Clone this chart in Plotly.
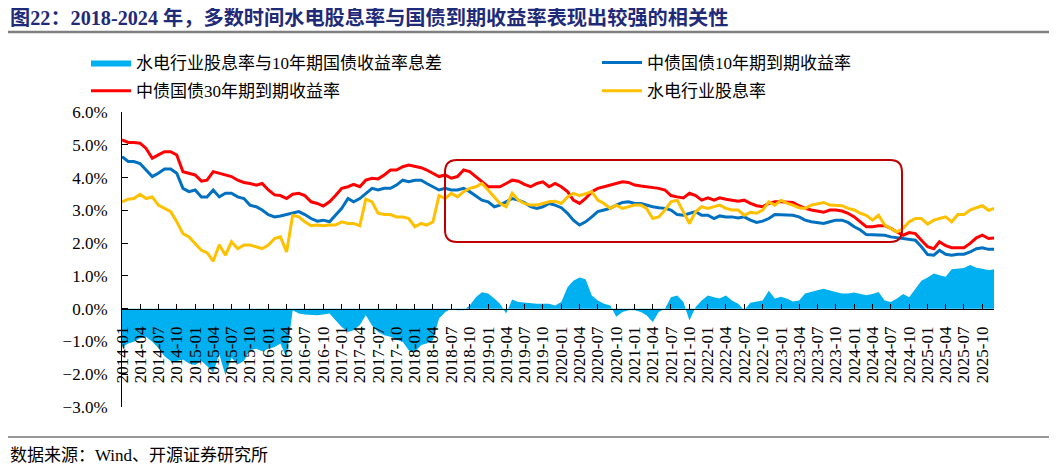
import pandas as pd
import plotly.graph_objects as go

dates = list(pd.date_range("2014-01-01", "2025-11-01", freq="MS").strftime("%Y-%m-%d")) + ["2025-11-28"]

cgb30 = [5.15, 5.07, 5.07, 5.05, 4.89, 4.59, 4.69, 4.79, 4.79, 4.69, 4.18, 4.13,
         4.08, 3.89, 3.92, 4.18, 4.13, 4.08, 4.03, 3.92, 3.85, 3.82, 3.77, 3.82,
         3.62, 3.47, 3.45, 3.36, 3.49, 3.52, 3.45, 3.26, 3.21, 3.13, 3.26, 3.45,
         3.67, 3.72, 3.79, 3.72, 3.92, 3.98, 3.96, 4.08, 4.23, 4.23, 4.33, 4.38,
         4.33, 4.30, 4.23, 4.13, 4.03, 4.08, 3.98, 4.03, 4.23, 4.18, 4.03, 3.87,
         3.72, 3.72, 3.72, 3.82, 3.92, 3.89, 3.79, 3.72, 3.82, 3.87, 3.72, 3.82,
         3.72, 3.57, 3.31, 3.21, 3.36, 3.57, 3.67, 3.72, 3.77, 3.82, 3.87, 3.85,
         3.77, 3.74, 3.72, 3.69, 3.67, 3.62, 3.45, 3.41, 3.38, 3.52, 3.45, 3.31,
         3.38, 3.31, 3.38, 3.34, 3.31, 3.28, 3.31, 3.21, 3.14, 3.11, 3.21, 3.26,
         3.26, 3.24, 3.24, 3.14, 3.06, 3.01, 2.98, 2.94, 3.01, 3.01, 2.98, 2.91,
         2.80, 2.65, 2.50, 2.50, 2.53, 2.53, 2.45, 2.34, 2.24, 2.32, 2.29, 2.09,
         1.89, 1.83, 2.04, 1.92, 1.86, 1.86, 1.86, 1.99, 2.16, 2.24, 2.14, 2.16]

cgb10 = [4.64, 4.49, 4.49, 4.43, 4.23, 4.03, 4.13, 4.26, 4.26, 4.13, 3.67, 3.57,
         3.62, 3.41, 3.41, 3.62, 3.41, 3.52, 3.52, 3.41, 3.36, 3.16, 3.11, 3.01,
         2.87, 2.80, 2.83, 2.87, 2.91, 2.96, 2.87, 2.75, 2.67, 2.70, 2.65, 2.85,
         3.06, 3.36, 3.26, 3.36, 3.52, 3.67, 3.62, 3.67, 3.67, 3.77, 3.92, 3.87,
         3.92, 3.92, 3.82, 3.72, 3.62, 3.67, 3.62, 3.62, 3.67, 3.57, 3.45, 3.31,
         3.26, 3.11, 3.16, 3.26, 3.36, 3.31, 3.24, 3.11, 3.06, 3.11, 3.21, 3.16,
         3.08, 2.91, 2.70, 2.55, 2.65, 2.80, 2.96, 3.01, 3.06, 3.16, 3.24, 3.26,
         3.21, 3.21, 3.16, 3.11, 3.08, 3.06, 3.01, 2.87, 2.85, 2.91, 2.96, 2.85,
         2.85, 2.75, 2.83, 2.80, 2.80, 2.77, 2.80, 2.70, 2.63, 2.67, 2.75, 2.87,
         2.87, 2.87, 2.85, 2.80, 2.70, 2.65, 2.63, 2.60, 2.65, 2.70, 2.70, 2.63,
         2.50, 2.40, 2.26, 2.26, 2.24, 2.24, 2.19, 2.16, 2.14, 2.12, 2.09, 1.89,
         1.65, 1.63, 1.78, 1.66, 1.63, 1.66, 1.66, 1.73, 1.83, 1.86, 1.81, 1.81]

hydro_dy = [3.26, 3.34, 3.36, 3.49, 3.36, 3.41, 3.16, 3.06, 2.96, 2.65, 2.29, 2.19,
            1.99, 1.78, 1.71, 1.45, 1.95, 1.63, 2.04, 1.83, 1.94, 1.94, 1.89, 1.83,
            1.94, 2.14, 2.19, 1.73, 2.85, 2.80, 2.65, 2.53, 2.55, 2.53, 2.55, 2.55,
            2.65, 2.60, 2.60, 2.53, 3.34, 3.26, 2.91, 2.87, 2.87, 2.80, 2.80, 2.75,
            2.50, 2.60, 2.55, 2.65, 3.45, 3.36, 3.52, 3.41, 3.57, 3.67, 3.72, 3.82,
            3.62, 3.41, 3.21, 3.11, 3.52, 3.31, 3.21, 3.16, 3.16, 3.21, 3.26, 3.28,
            3.21, 3.41, 3.52, 3.45, 3.52, 3.57, 3.31, 3.21, 3.06, 3.16, 3.06, 3.11,
            3.16, 3.16, 3.06, 2.75, 2.80, 3.01, 3.26, 3.31, 2.96, 2.60, 2.96, 3.11,
            3.06, 3.11, 3.16, 3.06, 3.01, 3.01, 2.85, 2.94, 2.91, 3.01, 3.26, 3.16,
            3.31, 3.21, 3.16, 3.08, 3.06, 3.16, 3.21, 3.24, 3.16, 3.16, 3.14, 3.06,
            3.01, 2.91, 2.85, 2.70, 2.85, 2.55, 2.45, 2.34, 2.45, 2.65, 2.75, 2.75,
            2.58, 2.70, 2.75, 2.80, 2.65, 2.87, 2.87, 3.01, 3.08, 3.14, 3.00, 3.06]

spread = [-1.17, -1.06, -1.01, -0.90, -0.86, -1.01, -1.20, -1.45, -1.60, -1.60, -1.55, -1.67,
          -1.72, -1.60, -1.75, -1.95, -1.40, -2.03, -1.50, -1.70, -1.60, -1.27, -1.22, -1.30,
          -1.22, -1.17, -1.06, -1.50, -0.05, -0.15, -0.18, -0.20, -0.20, -0.18, -0.15, -0.35,
          -0.56, -0.71, -0.66, -0.50, -0.20, -0.51, -0.71, -0.81, -0.86, -0.95, -1.01, -1.27,
          -1.32, -1.11, -1.06, -0.96, -0.30, -0.10, 0.00, -0.05, -0.05, 0.10, 0.35, 0.50,
          0.46, 0.31, 0.15, -0.15, 0.28, 0.20, 0.18, 0.17, 0.15, 0.15, 0.15, 0.10,
          0.20, 0.65, 0.85, 0.95, 0.90, 0.40, 0.25, 0.15, 0.10, -0.25, -0.10, -0.05,
          -0.05, -0.10, -0.20, -0.41, -0.10, 0.00, 0.35, 0.40, 0.20, -0.36, 0.05, 0.25,
          0.40, 0.35, 0.31, 0.40, 0.25, 0.15, -0.05, 0.18, 0.22, 0.25, 0.55, 0.31,
          0.36, 0.30, 0.22, 0.25, 0.46, 0.52, 0.56, 0.61, 0.55, 0.51, 0.46, 0.46,
          0.49, 0.45, 0.41, 0.45, 0.51, 0.25, 0.20, 0.31, 0.45, 0.35, 0.61, 0.85,
          0.95, 1.07, 1.02, 0.97, 1.20, 1.22, 1.24, 1.33, 1.25, 1.22, 1.17, 1.20]

FONT = "Liberation Serif, Times New Roman, Noto Sans CJK SC"

fig = go.Figure()
fig.add_trace(go.Scatter(x=dates, y=spread, name="水电行业股息率与10年期国债收益率息差",
                         mode="lines", line=dict(width=0, color="#00B0F0"),
                         fill="tozeroy", fillcolor="#00B0F0",
                         legend="legend", legendgroup="a"))
fig.add_trace(go.Scatter(x=dates, y=cgb10, name="中债国债10年期到期收益率",
                         mode="lines", line=dict(width=3, color="#0070C0"),
                         legend="legend2", legendgroup="b"))
fig.add_trace(go.Scatter(x=dates, y=cgb30, name="中债国债30年期到期收益率",
                         mode="lines", line=dict(width=3, color="#FF0000"),
                         legend="legend", legendgroup="c"))
fig.add_trace(go.Scatter(x=dates, y=hydro_dy, name="水电行业股息率",
                         mode="lines", line=dict(width=3, color="#FFC000"),
                         legend="legend2", legendgroup="d"))

# the page body adds an 8px margin, so the figure is 8px smaller and the
# pixel positions below are given in the reference picture's coordinates
OFF = 8
W, H = 1057 - OFF, 468 - OFF
L, T = 122 - OFF, 112 - OFF
R, B = W - (994 - OFF), H - (407 - OFF)
pw, ph = W - L - R, H - T - B


def px_x(x):
    return (x - OFF - L) / pw


def px_y(y):
    return (H - B - (y - OFF)) / ph


def rounded_rect(x0, y0, x1, y1, r):
    # pixel corners -> svg path in paper coords
    a0, a1 = px_x(x0), px_x(x1)
    b0, b1 = px_y(y1), px_y(y0)
    rx, ry = r / pw, r / ph
    return (f"M {a0 + rx},{b1} L {a1 - rx},{b1} Q {a1},{b1} {a1},{b1 - ry} "
            f"L {a1},{b0 + ry} Q {a1},{b0} {a1 - rx},{b0} L {a0 + rx},{b0} "
            f"Q {a0},{b0} {a0},{b0 + ry} L {a0},{b1 - ry} Q {a0},{b1} {a0 + rx},{b1} Z")


leg = dict(orientation="v", xanchor="left", yanchor="top", itemwidth=40,
           font=dict(size=17), bgcolor="rgba(0,0,0,0)", tracegroupgap=3)

fig.update_layout(
    width=W, height=H,
    margin=dict(l=L, r=R, t=T, b=B),
    paper_bgcolor="white", plot_bgcolor="white",
    font=dict(family=FONT, size=17, color="black"),
    showlegend=True,
    legend=dict(leg, x=px_x(86), y=px_y(45)),
    legend2=dict(leg, x=px_x(597), y=px_y(45)),
    xaxis=dict(type="date", range=["2014-01-01", "2025-11-28"],
               tick0="2014-01-01", dtick="M3", tickformat="%Y-%m", tickangle=-90,
               anchor="free", position=1 / 3, showline=True, linecolor="black", linewidth=1,
               ticks="inside", ticklen=5, tickcolor="black", showgrid=False, zeroline=False,
               ticklabelstandoff=10, tickfont=dict(size=17)),
    yaxis=dict(range=[-3, 6], dtick=1, tickformat=".1f", ticksuffix="%",
               showline=True, linecolor="black", linewidth=1, ticks="inside", ticklen=6,
               tickcolor="black", showgrid=False, zeroline=False, ticklabelstandoff=10,
               tickfont=dict(size=17)),
    shapes=[
        dict(type="path", xref="paper", yref="paper", path=rounded_rect(445, 160, 902, 242, 12),
             line=dict(color="#C00000", width=2)),
        dict(type="line", xref="paper", yref="paper", x0=px_x(5), x1=px_x(1052), y0=px_y(32), y1=px_y(32),
             line=dict(color="#7F7F7F", width=2.5)),
        dict(type="line", xref="paper", yref="paper", x0=px_x(5), x1=px_x(1052), y0=px_y(437), y1=px_y(437),
             line=dict(color="#333333", width=1.2)),
    ],
    annotations=[
        dict(text="<b>图22：2018-2024 年，多数时间水电股息率与国债到期收益率表现出较强的相关性</b>",
             xref="paper", yref="paper", x=px_x(8), y=px_y(18), xanchor="left", yanchor="middle",
             showarrow=False, font=dict(size=20.2, color="#1F2A78")),
        dict(text="数据来源：Wind、开源证券研究所", xref="paper", yref="paper",
             x=px_x(8), y=px_y(455), xanchor="left", yanchor="middle", showarrow=False,
             font=dict(size=17, color="black")),
    ],
)

fig.write_html("out.html")
